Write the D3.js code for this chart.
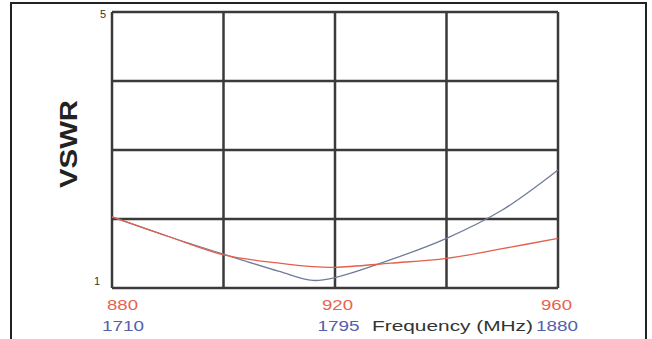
<!DOCTYPE html>
<html>
<head>
<meta charset="utf-8">
<script src="https://cdn.jsdelivr.net/npm/d3@7"></script>
<style>
  html, body { margin: 0; padding: 0; background: #fff; }
  svg { display: block; }
</style>
</head>
<body>
<svg id="chart" width="652" height="339"></svg>
<script>
// Relative position along the frequency axis (0 = left, 1 = right)
const positions = [0, 0.125, 0.25, 0.375, 0.45, 0.5, 0.625, 0.75, 0.875, 1];
// Low band 880–960 MHz (red)
const lowBandVSWR  = [2.03, 1.75, 1.48, 1.36, 1.31, 1.30, 1.36, 1.43, 1.57, 1.72];
// High band 1710–1880 MHz (blue)
const highBandVSWR = [2.03, 1.75, 1.49, 1.24, 1.11, 1.15, 1.41, 1.72, 2.13, 2.71];

const lowBandTicks  = ["880", "920", "960"];
const highBandTicks = ["1710", "1795", "1880"];
const yTickLabels = [1, 5];
const yGrid = [1, 2, 3, 4, 5];
const xGrid = [0, 0.25, 0.5, 0.75, 1];

const svg = d3.select("#chart");
const mLeft = 112, mRight = 558, mTop = 12, mBottom = 288;
const FONT = "Liberation Sans, Arial, sans-serif";

const x = d3.scaleLinear().domain([0, 1]).range([mLeft, mRight]);
const y = d3.scaleLinear().domain([1, 5]).range([mBottom, mTop]);
const xLow = d3.scaleLinear().domain([880, 960]).range([mLeft, mRight]);
const xHigh = d3.scaleLinear().domain([1710, 1880]).range([mLeft, mRight]);

// outer frame
svg.append("rect").attr("x", 11).attr("y", 3).attr("width", 635).attr("height", 345)
  .attr("fill", "#fff").attr("stroke", "#222").attr("stroke-width", 2);

// grid
const grid = svg.append("g").attr("stroke", "#3a3a3a").attr("stroke-width", 2.5);
grid.selectAll("line.h").data(yGrid).join("line").attr("class", "h")
  .attr("x1", mLeft).attr("x2", mRight)
  .attr("y1", d => y(d)).attr("y2", d => y(d));
grid.selectAll("line.v").data(xGrid).join("line").attr("class", "v")
  .attr("y1", mTop).attr("y2", mBottom)
  .attr("x1", d => x(d)).attr("x2", d => x(d));

// y tick labels
const yLabelShift = [-3, 6];
svg.selectAll("text.ytick").data(yTickLabels).join("text").attr("class", "ytick")
  .attr("x", (d, i) => i === 0 ? 100 : 106).attr("y", (d, i) => y(d) + yLabelShift[i])
  .attr("text-anchor", "end")
  .attr("font-family", FONT)
  .attr("font-size", 11).attr("fill", "#333")
  .text(d => d);

// Y axis title
svg.append("text")
  .attr("transform", `translate(77,144) rotate(-90)`)
  .attr("text-anchor", "middle")
  .attr("font-family", FONT)
  .attr("font-weight", "bold")
  .attr("font-size", 23).attr("fill", "#222")
  .attr("textLength", 88).attr("lengthAdjust", "spacingAndGlyphs")
  .text("VSWR");

// curves
const line = (vals) => d3.line()
  .x((d, i) => x(positions[i]))
  .y(d => y(d))
  .curve(d3.curveCatmullRom.alpha(0.5))(vals);

svg.append("path").attr("d", line(highBandVSWR))
  .attr("fill", "none").attr("stroke", "#6f7c9a").attr("stroke-width", 1.3);
svg.append("path").attr("d", line(lowBandVSWR))
  .attr("fill", "none").attr("stroke", "#e2604c").attr("stroke-width", 1.3);

// x tick labels
const lowVals = lowBandTicks.map(Number);
const highVals = highBandTicks.map(Number);
const anchors = ["start", "middle", "end"];
const lowOffsets = [-5, 2.5, 14];
const highOffsets = [-10, 3.5, 20];

svg.selectAll("text.low").data(lowVals).join("text").attr("class", "low")
  .attr("x", (d, i) => xLow(d) + lowOffsets[i])
  .attr("y", 310)
  .attr("text-anchor", (d, i) => anchors[i])
  .attr("font-family", FONT)
  .attr("font-size", 14).attr("fill", "#e8634f")
  .attr("textLength", 31).attr("lengthAdjust", "spacingAndGlyphs")
  .text((d, i) => lowBandTicks[i]);

svg.selectAll("text.high").data(highVals).join("text").attr("class", "high")
  .attr("x", (d, i) => xHigh(d) + highOffsets[i])
  .attr("y", 331)
  .attr("text-anchor", (d, i) => anchors[i])
  .attr("font-family", FONT)
  .attr("font-size", 14).attr("fill", "#5360ad")
  .attr("textLength", 42).attr("lengthAdjust", "spacingAndGlyphs")
  .text((d, i) => highBandTicks[i]);

svg.append("text")
  .attr("x", 372).attr("y", 331)
  .attr("font-family", FONT)
  .attr("font-size", 14).attr("fill", "#333")
  .attr("textLength", 161).attr("lengthAdjust", "spacingAndGlyphs")
  .text("Frequency (MHz)");
</script>
</body>
</html>
